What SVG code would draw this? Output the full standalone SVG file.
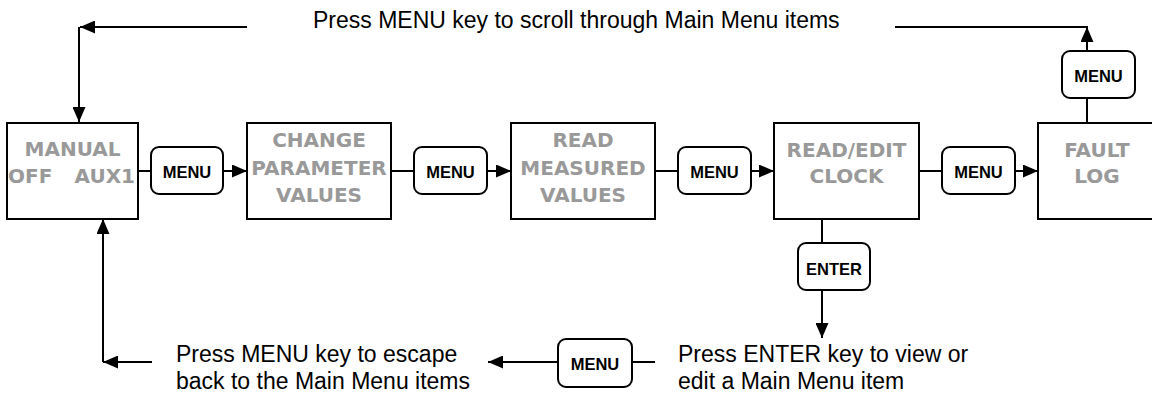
<svg xmlns="http://www.w3.org/2000/svg" width="1152" height="393" viewBox="0 0 1152 393">
<defs>
<marker id="ah" viewBox="0 0 15 13" refX="15" refY="6.5" markerWidth="15" markerHeight="13" markerUnits="userSpaceOnUse" orient="auto">
<path d="M0,0 L15,6.5 L0,13 Z" fill="#000"/>
</marker>
</defs>
<style>
.box{fill:#fff;stroke:#000;stroke-width:2}
.btn{fill:#fff;stroke:#000;stroke-width:2}
.lbl{font-family:"DejaVu Sans",Verdana,sans-serif;font-size:20px;font-weight:bold;fill:#999999;text-anchor:middle}
.key{font-family:"Liberation Sans",Arial,sans-serif;font-size:16.5px;font-weight:bold;fill:#000;text-anchor:middle}
.note{font-family:"Liberation Sans",Arial,sans-serif;font-size:23px;fill:#000}
.ln{fill:none;stroke:#000;stroke-width:2}
.arr{fill:none;stroke:#000;stroke-width:2;marker-end:url(#ah)}
</style>
<rect width="1152" height="393" fill="#fff"/>

<g id="connectors">
<path class="arr" d="M247,27 L80,27"/>
<path class="arr" d="M79,27 L79,122"/>
<path class="ln" d="M895,27 L1088,27"/>
<path class="arr" d="M1087,51 L1087,27"/>
<path class="ln" d="M1087,123 L1087,98"/>
<path class="ln" d="M138,171 L151,171"/>
<path class="arr" d="M223,171 L247,171"/>
<path class="ln" d="M391,171 L414,171"/>
<path class="arr" d="M487,171 L511,171"/>
<path class="ln" d="M655,171 L678,171"/>
<path class="arr" d="M751,171 L774,171"/>
<path class="ln" d="M919,171 L942,171"/>
<path class="arr" d="M1015,171 L1038,171"/>
<path class="ln" d="M822,219 L822,243"/>
<path class="arr" d="M822,290 L822,338"/>
<path class="ln" d="M655,362 L632,362"/>
<path class="arr" d="M558,362 L488,362"/>
<path class="arr" d="M152,362 L103,362"/>
<path class="arr" d="M103,362 L103,219"/>
</g>

<g id="manual">
<rect class="box" x="7" y="123" width="131" height="96"/>
<text class="lbl" x="72.5" y="156">MANUAL</text>
<text class="lbl" y="183"><tspan x="8" text-anchor="start">OFF</tspan><tspan x="135" text-anchor="end">AUX1</tspan></text>
</g>
<g id="change-parameter-values">
<rect class="box" x="247" y="123" width="144" height="96"/>
<text class="lbl" x="319" y="147">CHANGE</text>
<text class="lbl" x="319" y="175">PARAMETER</text>
<text class="lbl" x="319" y="202">VALUES</text>
</g>
<g id="read-measured-values">
<rect class="box" x="511" y="123" width="144" height="96"/>
<text class="lbl" x="583" y="147">READ</text>
<text class="lbl" x="583" y="175">MEASURED</text>
<text class="lbl" x="583" y="202">VALUES</text>
</g>
<g id="read-edit-clock">
<rect class="box" x="774" y="123" width="145" height="96"/>
<text class="lbl" x="846.5" y="157">READ/EDIT</text>
<text class="lbl" x="846.5" y="183">CLOCK</text>
</g>
<g id="fault-log">
<rect class="box" x="1038" y="123" width="118" height="96"/>
<text class="lbl" x="1097" y="157">FAULT</text>
<text class="lbl" x="1097" y="183">LOG</text>
</g>

<g id="btn-menu-1">
<rect class="btn" x="151" y="147" width="72" height="47" rx="8"/>
<text class="key" x="187" y="178">MENU</text>
</g>
<g id="btn-menu-2">
<rect class="btn" x="414" y="147" width="73" height="47" rx="8"/>
<text class="key" x="450.5" y="178">MENU</text>
</g>
<g id="btn-menu-3">
<rect class="btn" x="678" y="147" width="73" height="47" rx="8"/>
<text class="key" x="714.5" y="178">MENU</text>
</g>
<g id="btn-menu-4">
<rect class="btn" x="942" y="147" width="73" height="47" rx="8"/>
<text class="key" x="978.5" y="178">MENU</text>
</g>
<g id="btn-menu-top">
<rect class="btn" x="1062" y="51" width="73" height="47" rx="8"/>
<text class="key" x="1098.5" y="82">MENU</text>
</g>
<g id="btn-enter">
<rect class="btn" x="798" y="243" width="72" height="47" rx="8"/>
<text class="key" x="834" y="274.5">ENTER</text>
</g>
<g id="btn-menu-escape">
<rect class="btn" x="558" y="339" width="74" height="48" rx="8"/>
<text class="key" x="595" y="370">MENU</text>
</g>

<g id="notes">
<text class="note" x="313" y="28">Press MENU key to scroll through Main Menu items</text>
<text class="note" x="176" y="362">Press MENU key to escape</text>
<text class="note" x="176" y="389">back to the Main Menu items</text>
<text class="note" x="678" y="362">Press ENTER key to view or</text>
<text class="note" x="678" y="389">edit a Main Menu item</text>
</g>
</svg>
